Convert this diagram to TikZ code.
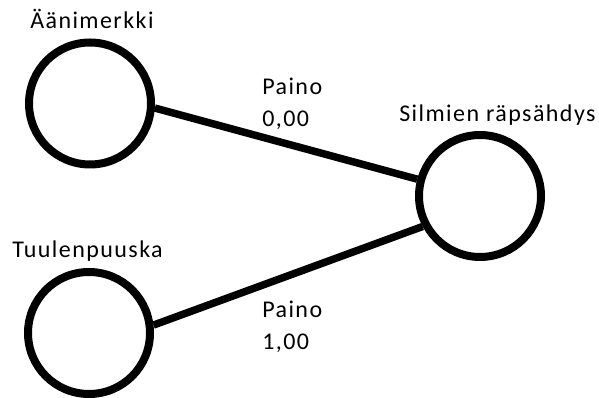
\documentclass[tikz,border=0pt]{standalone}
\usepackage{fontspec}
\newfontfamily\labfont[LetterSpace=6]{Carlito}
\begin{document}
\begin{tikzpicture}[x=0.75pt,y=-0.75pt,
  neuron/.style={circle,draw=black,line width=6pt,minimum size=91.5pt,inner sep=0pt,fill=white},
  conn/.style={draw=black,line width=5.6pt},
  lbl/.style={anchor=base west,inner sep=0pt,font=\labfont\fontsize{18pt}{21pt}\selectfont,text=black}]
\useasboundingbox (0,0) rectangle (599,398);
\node[neuron] (a) at (90,103.5) {};
\node[neuron] (b) at (89,333) {};
\node[neuron] (c) at (480,196) {};
\draw[conn] (a.-4) -- (c.165.7);
\draw[conn] (b.7) -- (c.208.5);
\node[lbl] (la) at (30,29) {Äänimerkki};
\node[lbl] (lb) at (12,258) {Tuulenpuuska};
\node[lbl] (lc) at (399,121.7) {Silmien räpsähdys};
\node[lbl] (w1a) at (262,94.3) {Paino};
\node[lbl] (w1b) at (262,127) {0,00};
\node[lbl] (w2a) at (262,318) {Paino};
\node[lbl] (w2b) at (262,350) {1,00};
\end{tikzpicture}
\end{document}
